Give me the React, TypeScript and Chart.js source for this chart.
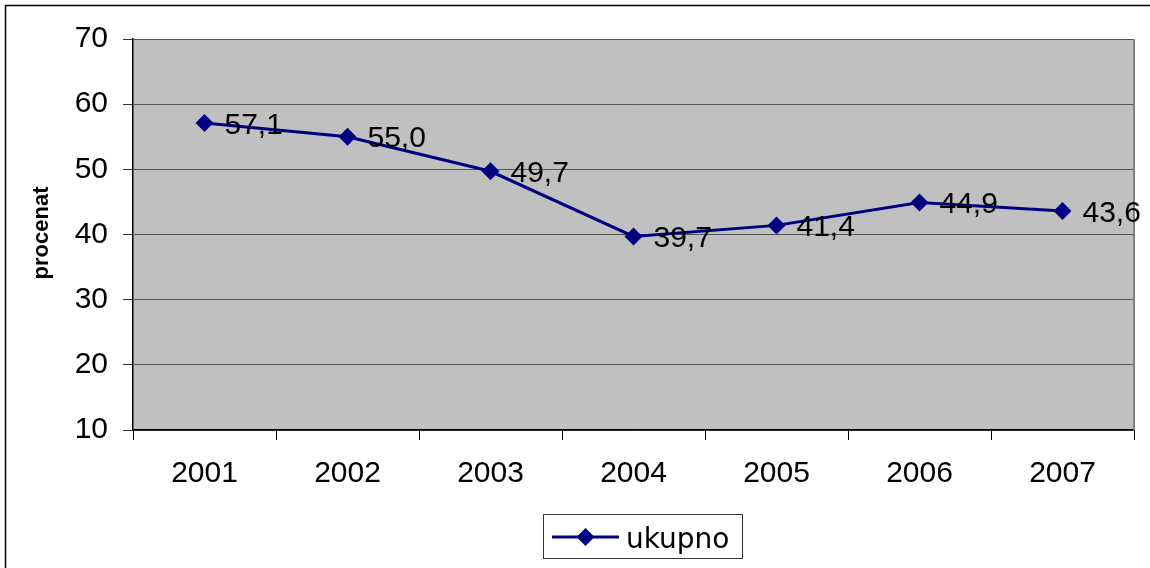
import React, { useEffect, useRef } from "react";
import { Chart, registerables } from "chart.js";

Chart.register(...registerables);

const categories = ["2001", "2002", "2003", "2004", "2005", "2006", "2007"];
const ukupno = [57.1, 55.0, 49.7, 39.7, 41.4, 44.9, 43.6];
const seriesName = "ukupno";
const yTitle = "procenat";
const yMin = 10;
const yMax = 70;
const yStep = 10;

const NAVY = "#000080";
const SANS = "'Liberation Sans', Arial, sans-serif";

const decor = {
  id: "decor",
  beforeDraw(chart: any) {
    const { ctx, chartArea: a } = chart;
    ctx.save();
    ctx.fillStyle = "#ffffff";
    ctx.fillRect(0, 0, chart.width, chart.height);
    ctx.fillStyle = "#C0C0C0";
    ctx.fillRect(a.left, a.top, a.right - a.left, a.bottom - a.top);
    ctx.restore();
  },
  beforeDatasetsDraw(chart: any) {
    const { ctx, chartArea: a } = chart;
    ctx.save();
    ctx.strokeStyle = "#808080";
    ctx.lineWidth = 2;
    ctx.beginPath();
    ctx.moveTo(a.right, a.top);
    ctx.lineTo(a.right, a.bottom);
    ctx.stroke();
    ctx.restore();
  },
  afterDatasetsDraw(chart: any) {
    const { ctx } = chart;
    const meta = chart.getDatasetMeta(0);
    const data = chart.data.datasets[0].data as number[];
    ctx.save();
    ctx.fillStyle = "#000";
    ctx.font = `30px ${SANS}`;
    ctx.textAlign = "left";
    ctx.textBaseline = "alphabetic";
    meta.data.forEach((pt: any, i: number) => {
      const txt = data[i].toFixed(1).replace(".", ",");
      ctx.fillText(txt, pt.x + 20, pt.y + 10.5);
    });
    ctx.restore();
  },
  afterDraw(chart: any) {
    const { ctx } = chart;
    ctx.save();
    // outer chart border
    ctx.strokeStyle = "#000";
    ctx.lineWidth = 1.5;
    ctx.strokeRect(5.5, 5.5, 1200, 1200);

    // y axis title
    ctx.save();
    ctx.translate(47.5, 233);
    ctx.rotate(-Math.PI / 2);
    ctx.font = `bold 22px ${SANS}`;
    ctx.fillStyle = "#000";
    ctx.textAlign = "center";
    ctx.textBaseline = "alphabetic";
    ctx.fillText(yTitle, 0, 0);
    ctx.restore();

    // legend
    ctx.strokeStyle = "#333";
    ctx.lineWidth = 1;
    ctx.strokeRect(543.5, 514.5, 199, 44);
    ctx.strokeStyle = NAVY;
    ctx.lineWidth = 3;
    ctx.beginPath();
    ctx.moveTo(552, 537);
    ctx.lineTo(619, 537);
    ctx.stroke();
    ctx.fillStyle = NAVY;
    ctx.beginPath();
    ctx.moveTo(585.5, 528);
    ctx.lineTo(594.5, 537);
    ctx.lineTo(585.5, 546);
    ctx.lineTo(576.5, 537);
    ctx.closePath();
    ctx.fill();
    ctx.fillStyle = "#000";
    ctx.font = "28px 'DejaVu Sans', sans-serif";
    ctx.textAlign = "left";
    ctx.textBaseline = "alphabetic";
    ctx.fillText(seriesName, 626, 548);
    ctx.restore();
  },
};

export default function App() {
  const ref = useRef<HTMLCanvasElement>(null);
  useEffect(() => {
    if (!ref.current) return;
    const chart = new Chart(ref.current, {
      type: "line",
      data: {
        labels: categories,
        datasets: [
          {
            label: seriesName,
            data: ukupno,
            borderColor: NAVY,
            backgroundColor: NAVY,
            borderWidth: 3,
            pointStyle: "rectRot",
            pointRadius: 9,
            pointHoverRadius: 9,
            pointBackgroundColor: NAVY,
            pointBorderColor: NAVY,
            pointBorderWidth: 0,
            tension: 0,
          },
        ],
      },
      options: {
        animation: false,
        responsive: false,
        maintainAspectRatio: false,
        events: [],
        layout: { padding: { top: 39, right: 16, left: 0, bottom: 0 } },
        plugins: {
          legend: { display: false },
          tooltip: { enabled: false },
          title: { display: false },
        },
        scales: {
          x: {
            type: "category",
            offset: true,
            afterFit: (s: any) => {
              s.height = 138;
            },
            grid: {
              offset: true,
              drawOnChartArea: false,
              drawTicks: true,
              tickLength: 10,
              color: "#000",
              tickColor: "#000",
            },
            border: { display: true, color: "#000", width: 1.5 },
            ticks: {
              color: "#000",
              font: { family: SANS, size: 30 },
              padding: 16,
              maxRotation: 0,
              autoSkip: false,
            },
          },
          y: {
            min: yMin,
            max: yMax,
            afterFit: (s: any) => {
              s.width = 133;
            },
            grid: {
              color: "#555",
              lineWidth: 1,
              tickLength: 10,
              tickColor: "#333",
            },
            border: { display: true, color: "#000", width: 1.5 },
            ticks: {
              stepSize: yStep,
              color: "#000",
              font: { family: SANS, size: 30 },
              padding: 15,
            },
          },
        },
      },
      plugins: [decor],
    });
    return () => chart.destroy();
  }, []);
  return (
    <div style={{ position: "absolute", left: 0, top: 0, width: 1150, height: 568, background: "#fff" }}>
      <canvas ref={ref} width={1150} height={568} style={{ display: "block", width: 1150, height: 568 }} />
    </div>
  );
}
